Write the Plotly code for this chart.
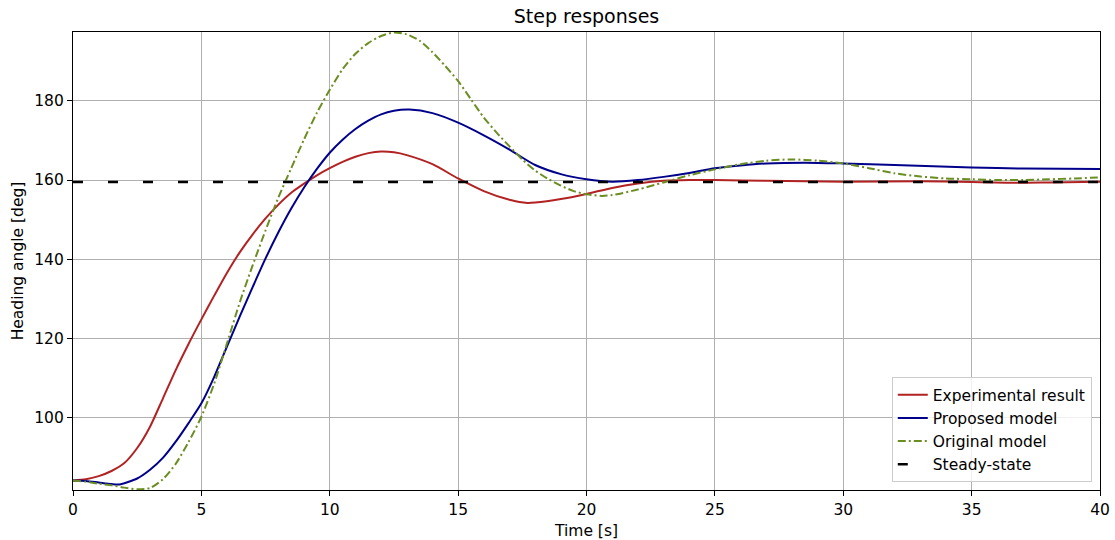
import plotly.graph_objects as go

# Experimental heading response
t_exp = [0, 0.5, 1, 1.5, 2, 2.5, 3, 3.5, 4, 4.5, 5, 5.5, 6, 6.5, 7, 7.5, 8, 8.5, 9, 9.5,
         10, 10.5, 11, 11.5, 12, 12.5, 13, 14, 15, 16, 17, 17.7, 18, 19, 20, 21, 22, 23, 24, 25,
         27, 30, 33, 35, 36.5, 38, 40]
y_exp = [84.1, 84.4, 85.2, 86.5, 88.5, 92.3, 97.7, 104.8, 112.0, 118.6, 124.8, 130.8, 136.6, 141.8,
         146.3, 150.3, 153.8, 156.8, 159.1, 161.2, 163.0, 164.6, 165.9, 166.8, 167.2, 167.0, 166.3,
         164.0, 160.4, 157.2, 155.0, 154.2, 154.3, 155.2, 156.5, 158.0, 159.1, 159.8, 160.0, 160.0,
         159.8, 159.6, 159.7, 159.5, 159.3, 159.4, 159.6]

# Proposed model response
t_prop = [0, 0.5, 1, 1.5, 1.8, 2.5, 3, 3.5, 4, 4.5, 5, 5.5, 6, 6.5, 7, 7.5, 8, 8.5, 9, 9.5,
          10, 10.5, 11, 11.5, 12, 12.5, 13.1, 14, 15, 16, 17, 18, 19, 20, 21, 22, 23, 24, 25, 26,
          27, 28.5, 30, 32, 35, 37, 40]
y_prop = [84.1, 84.0, 83.6, 83.2, 83.1, 84.6, 86.8, 89.8, 93.9, 98.6, 103.6, 110.3, 118.0, 125.6,
          133.0, 140.2, 146.8, 152.8, 158.1, 162.8, 166.9, 170.2, 172.9, 175.0, 176.6, 177.5, 177.8,
          176.9, 174.5, 171.3, 167.7, 163.8, 161.5, 160.2, 159.6, 160.0, 160.8, 161.8, 163.0, 163.7,
          164.2, 164.4, 164.2, 163.8, 163.2, 162.9, 162.8]

# Original model response
t_orig = [0, 0.5, 1, 1.5, 2, 2.5, 3, 3.5, 4, 4.5, 5, 5.5, 6, 6.5, 7, 7.5, 8, 8.5, 9, 9.5,
          10, 10.5, 11, 11.5, 12, 12.5, 13, 13.5, 14, 14.5, 15, 15.5, 16, 16.5, 17, 17.5, 18, 18.5,
          19, 19.5, 20, 20.6, 21, 22, 23, 24, 25, 26, 27, 28, 29, 30, 31, 32, 33, 34, 35, 36, 37,
          38, 39, 40]
y_orig = [84.1, 83.8, 83.3, 82.9, 82.3, 81.9, 82.2, 84.4, 88.3, 93.8, 100.2, 108.6, 118.8, 129.2,
          138.5, 147.3, 155.6, 163.0, 170.3, 177.0, 182.8, 188.0, 191.9, 194.6, 196.4, 197.3, 196.8,
          195.2, 192.3, 188.8, 185.0, 180.4, 175.8, 172.0, 168.5, 165.2, 162.4, 160.3, 158.6, 157.2,
          156.4, 156.0, 156.2, 157.6, 159.4, 161.2, 162.7, 164.0, 164.9, 165.2, 164.9, 164.2, 163.0,
          161.7, 160.9, 160.4, 160.2, 160.0, 160.0, 160.2, 160.4, 160.7]

# Steady-state heading
t_ss = [0, 40]
y_ss = [159.5, 159.5]

x_ticks = [0, 5, 10, 15, 20, 25, 30, 35, 40]
y_ticks = [100, 120, 140, 160, 180]

FONT = "DejaVu Sans"
FS = 15.5

fig = go.Figure()
fig.add_trace(go.Scatter(x=t_exp, y=y_exp, mode="lines", name="Experimental result",
                         line=dict(color="#b22222", width=2, shape="spline", smoothing=0.7)))
fig.add_trace(go.Scatter(x=t_prop, y=y_prop, mode="lines", name="Proposed model",
                         line=dict(color="#00008b", width=2, shape="spline", smoothing=0.7)))
fig.add_trace(go.Scatter(x=t_orig, y=y_orig, mode="lines", name="Original model",
                         line=dict(color="#6b8e23", width=2, shape="spline", smoothing=0.7,
                                   dash="8px,3px,2px,3px")))
fig.add_trace(go.Scatter(x=t_ss, y=y_ss, mode="lines", name="Steady-state",
                         line=dict(color="black", width=2.5, dash="10px,25px")))

axis_common = dict(
    showline=True, linecolor="black", linewidth=1.2, mirror=True,
    ticks="outside", ticklen=5, tickwidth=1, tickcolor="black",
    showgrid=True, gridcolor="#b0b0b0", gridwidth=1, zeroline=False,
    tickfont=dict(family=FONT, size=FS, color="black"),
    automargin=False,
)

fig.update_layout(
    width=1115, height=540,
    margin=dict(l=73, r=15, t=32, b=50),
    paper_bgcolor="white", plot_bgcolor="white",
    font=dict(family=FONT, size=FS, color="black"),
    title=dict(text="Step responses", x=0.5, xref="paper", xanchor="center",
               y=1 - 16 / 540, yanchor="middle", font=dict(family=FONT, size=19)),
    xaxis=dict(range=[0, 40], tickvals=x_ticks,
               title=dict(text="Time [s]", font=dict(family=FONT, size=FS), standoff=7),
               **axis_common),
    yaxis=dict(range=[81.7, 197.4], tickvals=y_ticks,
               title=dict(text="Heading angle [deg]", font=dict(family=FONT, size=FS), standoff=6),
               **axis_common),
    legend=dict(x=0.992, y=0.017, xanchor="right", yanchor="bottom",
                bgcolor="rgba(255,255,255,0.8)", bordercolor="#cccccc", borderwidth=1,
                font=dict(family=FONT, size=FS), tracegroupgap=0),
    showlegend=True,
)

fig.write_html("out.html")
